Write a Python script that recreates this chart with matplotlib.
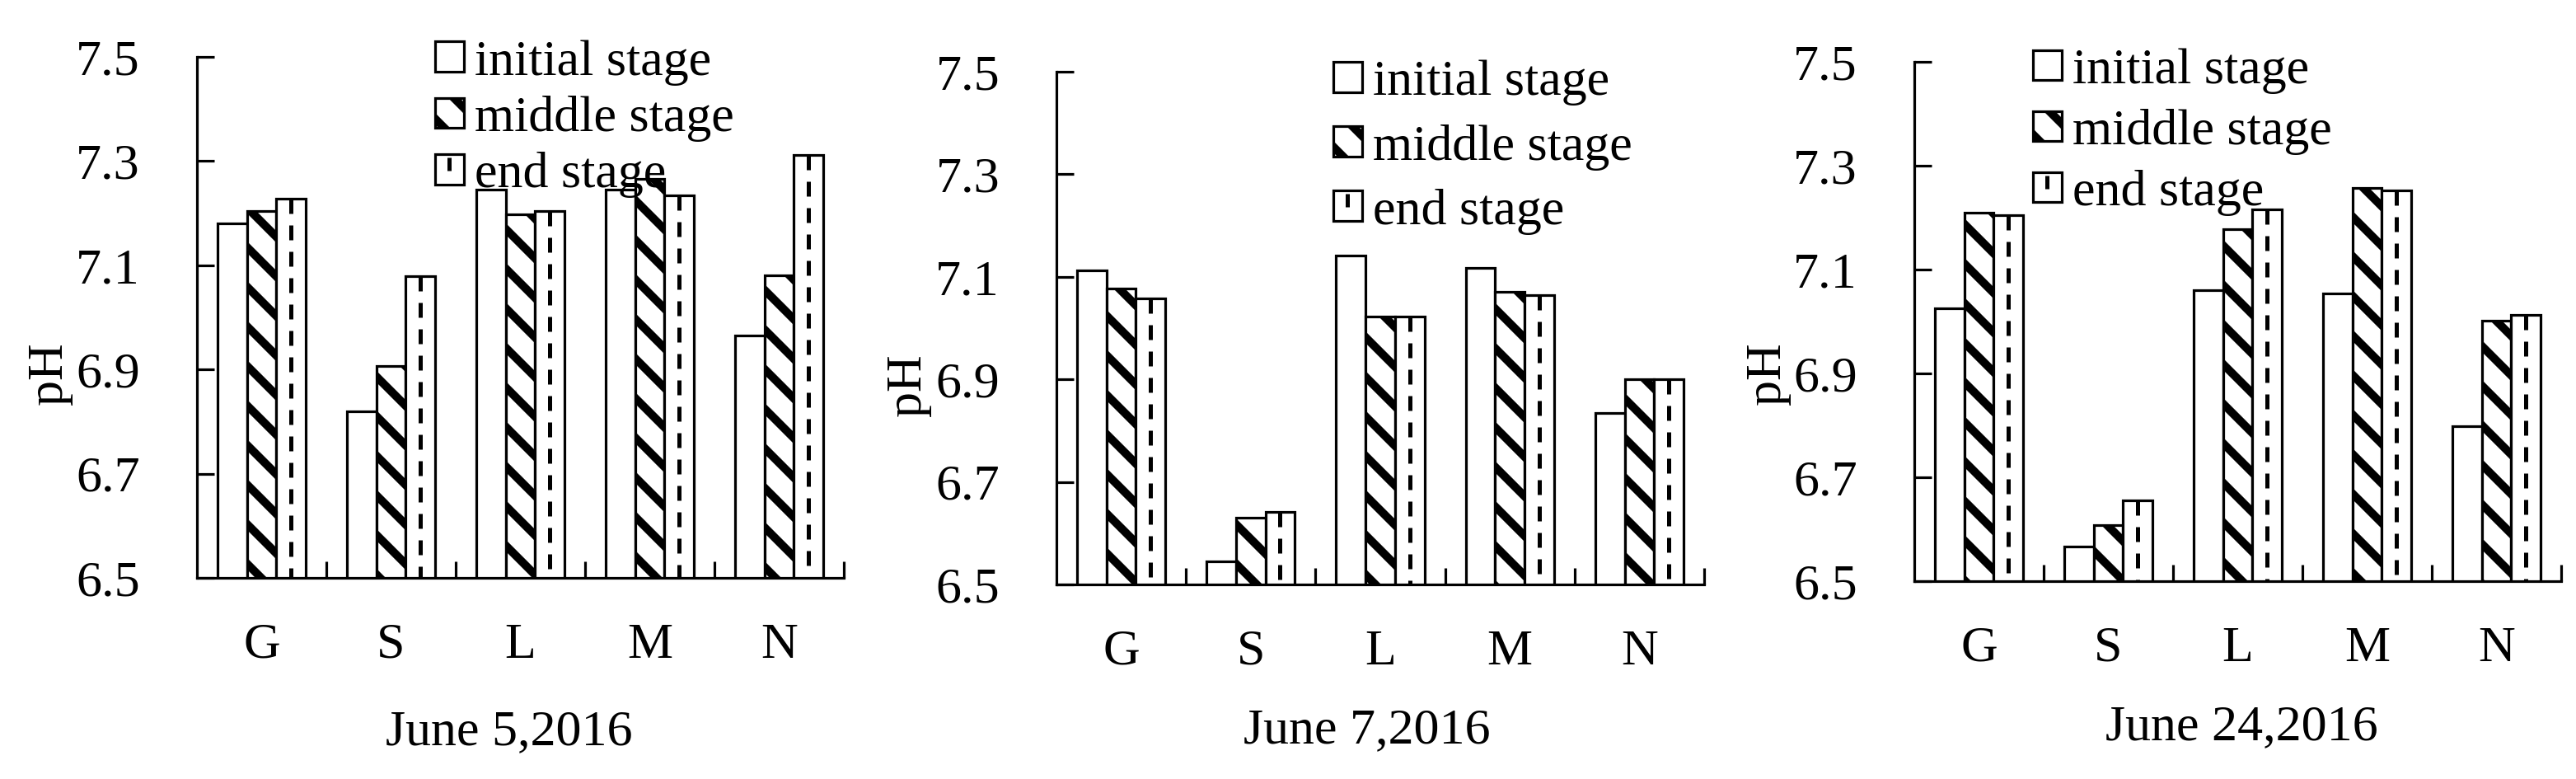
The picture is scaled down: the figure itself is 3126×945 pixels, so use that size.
import numpy as np
import matplotlib
matplotlib.use('Agg')
import matplotlib.pyplot as plt
from matplotlib.patches import Patch
from matplotlib.lines import Line2D
from matplotlib.legend_handler import HandlerTuple
from matplotlib.path import Path

# ---------------- data ----------------
categories = ['G', 'S', 'L', 'M', 'N']
stages = ['initial stage', 'middle stage', 'end stage']
dates = ['June 5,2016', 'June 7,2016', 'June 24,2016']

jun5_initial = [7.180, 6.820, 7.245, 7.245, 6.965]
jun5_middle = [7.204, 6.906, 7.198, 7.266, 7.080]
jun5_end = [7.228, 7.079, 7.204, 7.234, 7.311]

jun7_initial = [7.112, 6.545, 7.142, 7.118, 6.835]
jun7_middle = [7.077, 6.630, 7.023, 7.071, 6.901]
jun7_end = [7.058, 6.641, 7.023, 7.065, 6.901]

jun24_initial = [7.025, 6.566, 7.061, 7.054, 6.799]
jun24_middle = [7.209, 6.608, 7.178, 7.257, 7.001]
jun24_end = [7.204, 6.655, 7.216, 7.252, 7.012]

yticks = [6.5, 6.7, 6.9, 7.1, 7.3, 7.5]
ytick_labels = ['6.5', '6.7', '6.9', '7.1', '7.3', '7.5']

panels = [
    (jun5_initial, jun5_middle, jun5_end),
    (jun7_initial, jun7_middle, jun7_end),
    (jun24_initial, jun24_middle, jun24_end),
]

# ---------------- style / layout ----------------
DPI = 288
W, H = 3126, 945
plt.rcParams.update({
    'font.family': ['Liberation Serif', 'DejaVu Serif'],
    'hatch.linewidth': 2.5,
    'hatch.color': 'black',
    'lines.scale_dashes': False,
    'axes.linewidth': 0.8,
})
FS = 15.5
HATCH = '\\\\'

fig = plt.figure(figsize=(W / DPI, H / DPI), dpi=DPI)
fig.patch.set_facecolor('white')

# axes boxes in pixels: left, right, top, bottom
axes_px = [(239, 1024, 69, 701), (1282, 2068, 87, 709), (2323, 3108, 75, 705)]
ylabel_pos = [(-0.192, 0.392), (-0.193, 0.389), (-0.191, 0.40)]
xlabel_pos = [(0.482, -0.252), (0.480, -0.240), (0.506, -0.237)]
legend_pos = [((528, 48), 0.20), ((1618, 73), 0.355), ((2467, 58.5), 0.29)]

bw = 0.227
x = np.arange(len(categories))

for i, (init, mid, end) in enumerate(panels):
    l, r, t, b = axes_px[i]
    ax = fig.add_axes([l / W, 1 - b / H, (r - l) / W, (b - t) / H])
    ax.bar(x - bw, init, bw, color='white', edgecolor='black', linewidth=0.8, zorder=2)
    ax.bar(x, mid, bw, color='white', edgecolor='black', linewidth=0.8,
           hatch=HATCH, zorder=2)
    ax.bar(x + bw, end, bw, color='white', edgecolor='black', linewidth=0.8, zorder=2)
    ax.vlines(x + bw, ymin=end, ymax=6.5, colors='black', linewidth=1.25,
              linestyles=[(0, (4.5, 3.5))], zorder=3)

    ax.set_xlim(-0.5, 4.5)
    ax.set_ylim(6.5, 7.5)
    ax.set_xticks(x)
    ax.set_xticklabels(categories)
    ax.set_xticks(np.arange(0.5, len(categories), 1.0), minor=True)
    ax.set_yticks(yticks)
    ax.set_yticklabels(ytick_labels)
    ax.tick_params(axis='x', which='major', length=0, pad=13.5, labelsize=FS)
    ax.tick_params(axis='x', which='minor', direction='in', length=5, width=0.8)
    ax.tick_params(axis='y', which='major', direction='in', length=5.25, width=0.8,
                   pad=17.25, labelsize=FS)
    for s in ('top', 'right'):
        ax.spines[s].set_visible(False)

    ax.set_ylabel('pH', fontsize=FS)
    ax.yaxis.set_label_coords(*ylabel_pos[i])
    ax.set_xlabel(dates[i], fontsize=FS)
    ax.xaxis.set_label_coords(*xlabel_pos[i])

    h_init = Patch(facecolor='white', edgecolor='black', linewidth=0.8)
    h_mid = Patch(facecolor='white', edgecolor='black', linewidth=0.8, hatch=HATCH)
    h_end_box = Patch(facecolor='white', edgecolor='black', linewidth=0.8)
    h_end_mark = Line2D([], [], linestyle='none', color='black',
                        marker=Path([(0, 0), (0, 1)]), markersize=8,
                        markeredgewidth=1.25)
    (lx, ly), lsp = legend_pos[i]
    ax.legend([h_init, h_mid, (h_end_box, h_end_mark)], stages,
              loc='upper left', bbox_to_anchor=(lx / W, 1 - ly / H),
              bbox_transform=fig.transFigure, frameon=False, borderpad=0,
              borderaxespad=0, handlelength=0.56, handleheight=0.53,
              handletextpad=0.21, labelspacing=lsp, fontsize=FS,
              handler_map={tuple: HandlerTuple(ndivide=1, pad=0)})

fig.savefig('out.png', dpi=DPI, facecolor='white')
